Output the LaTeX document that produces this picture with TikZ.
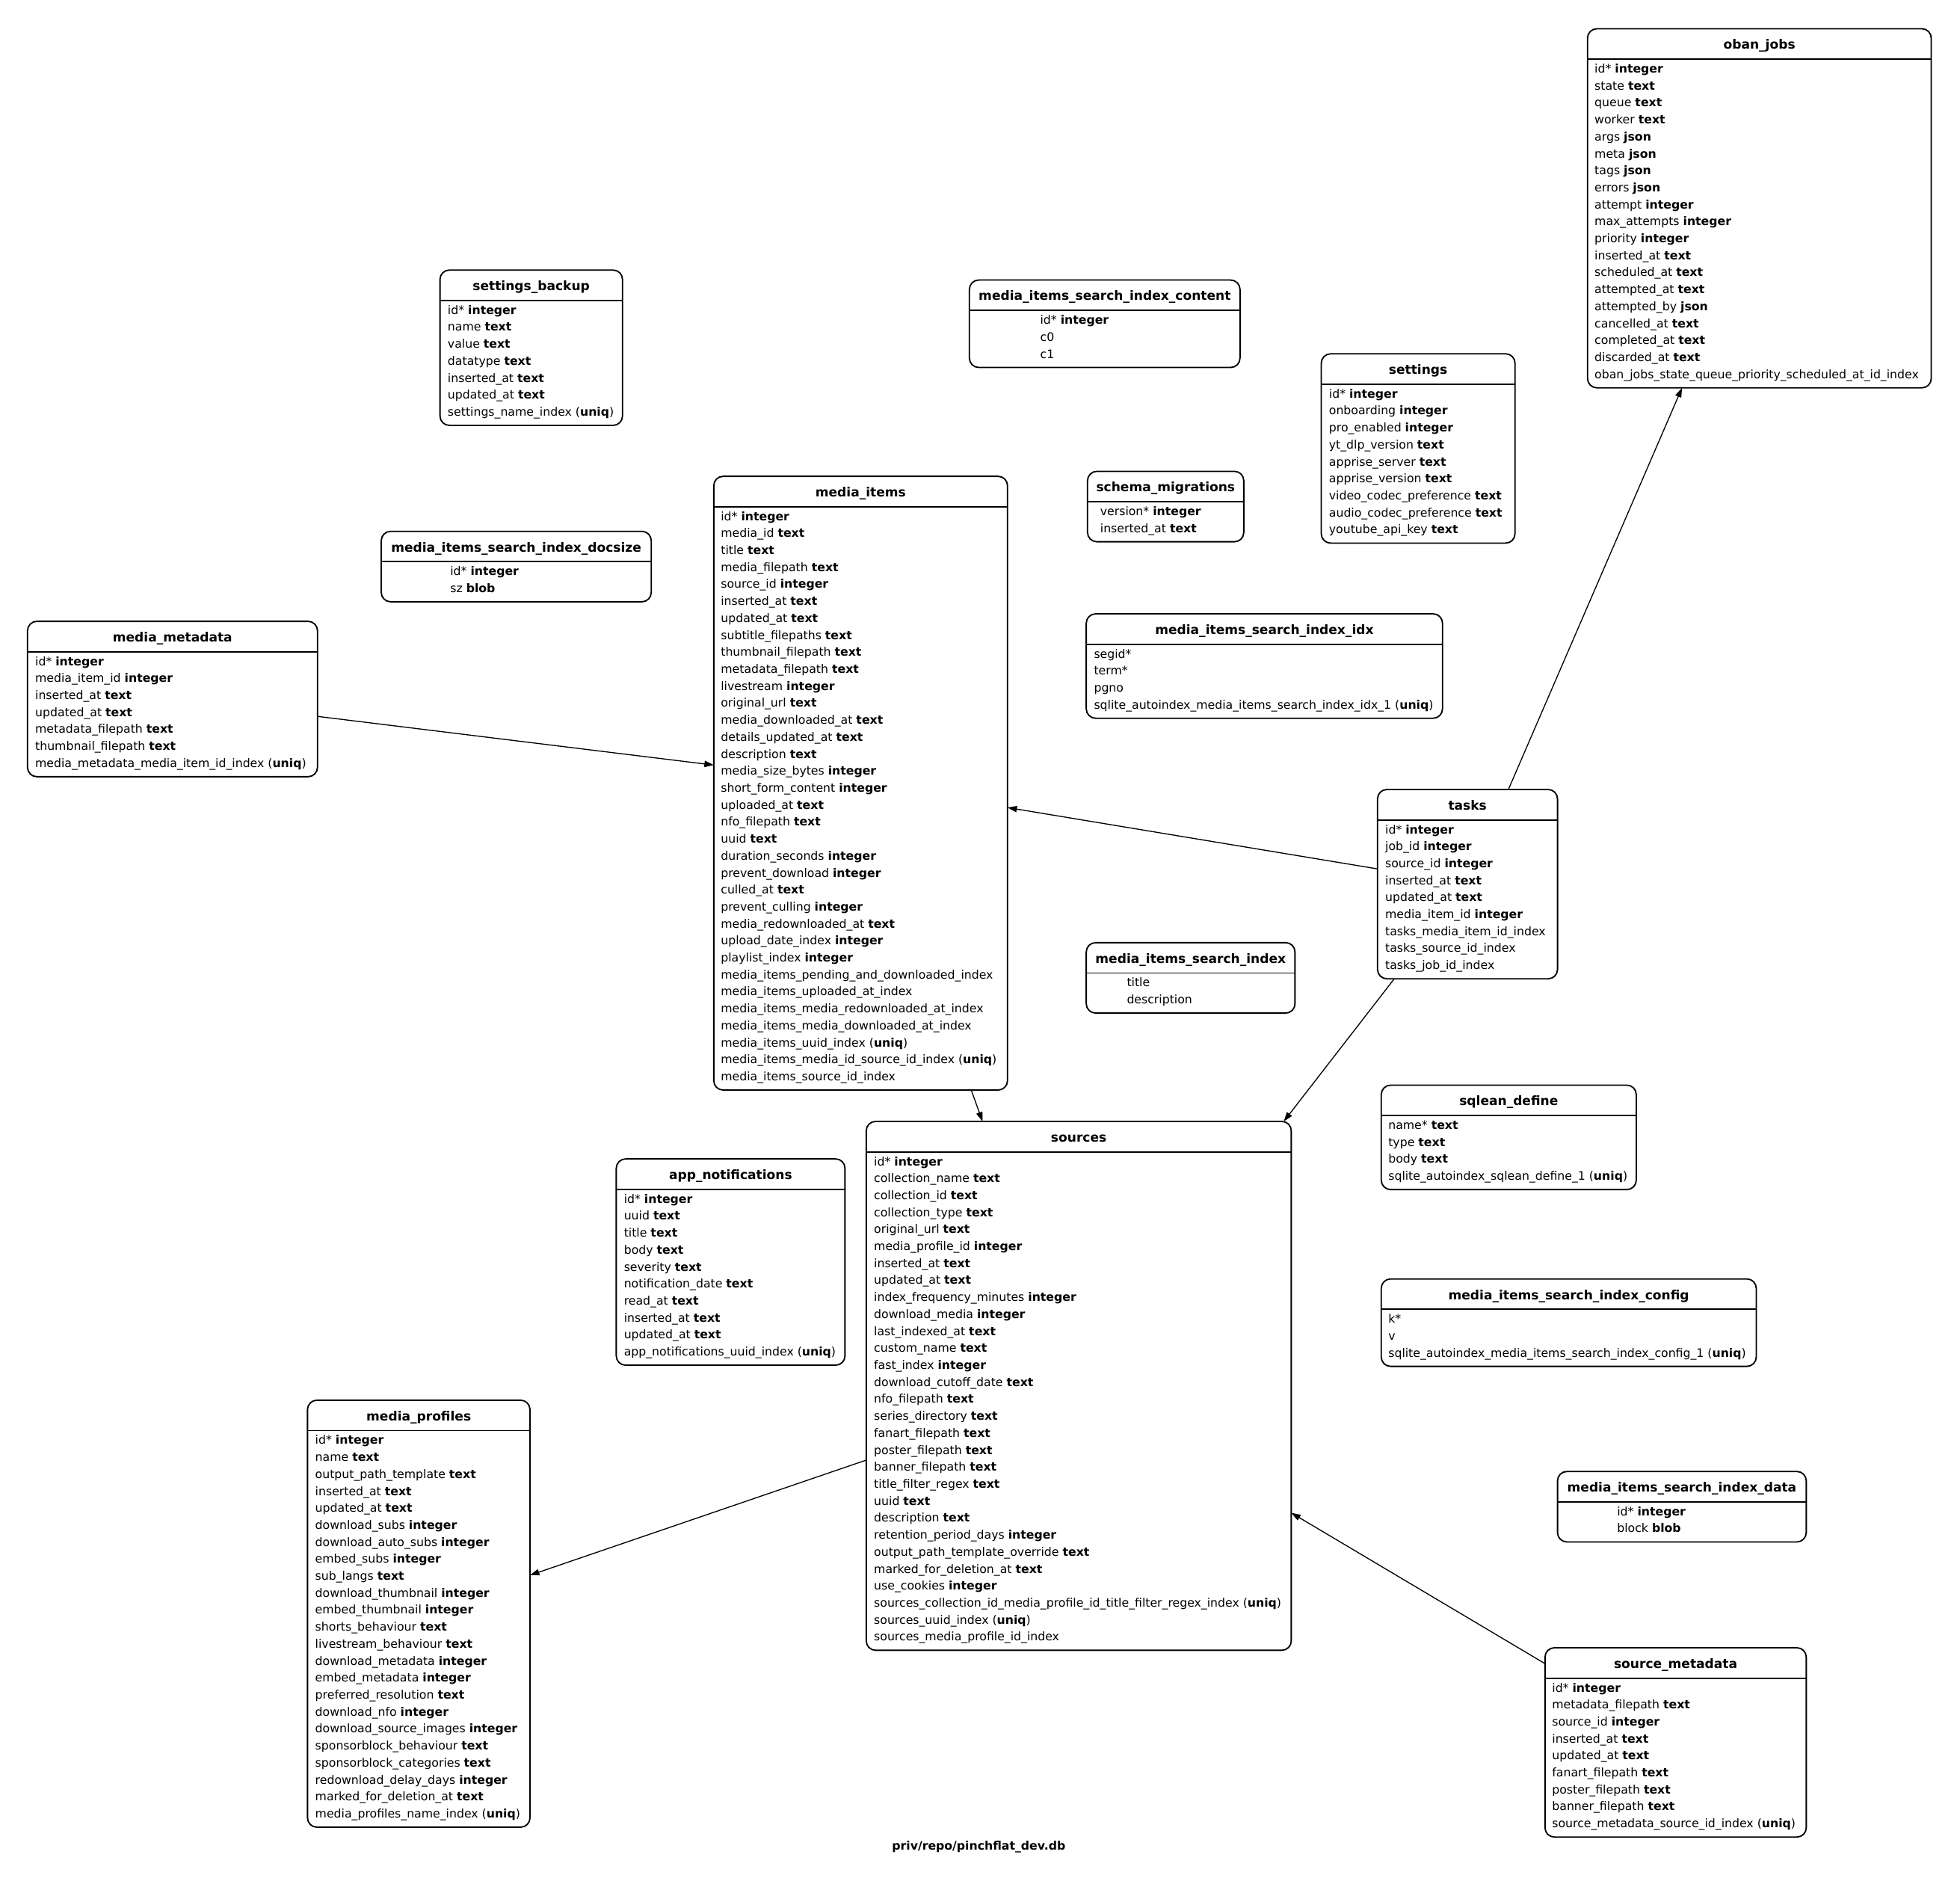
\documentclass[tikz,border=0pt]{standalone}
\usepackage{fontspec}
\setmainfont{DejaVu Sans}
\usetikzlibrary{arrows.meta}
\newcommand\ftype[1]{\textbf{#1}}
\tikzset{
  tblbox/.style={draw, line width=1.1pt, rounded corners=7.5pt, inner sep=0pt, outer sep=0pt},
  tblline/.style={line width=1.1pt},
  tbltitle/.style={font=\fontsize{10.2}{12}\selectfont\bfseries, inner sep=0pt},
  tblrow/.style={font=\fontsize{9.4}{13.58}\selectfont, inner sep=0pt},
  fk/.style={line width=0.8pt, -{Triangle[length=7.5pt,width=5pt]}},
}
% #1 name, #2 left, #3 top, #4 right, #5 rows, #6 title, #7 text x, #8 row list
\newcommand\dbtable[8]{%
  \pgfmathsetmacro\tblH{29.2+#5*13.58}%
  \node[tblbox, minimum width={#4-#2}, minimum height={\tblH}, anchor=north west] (#1) at (#2,#3) {};
  \draw[tblline] ([yshift=-24.3pt]#1.north west) -- ([yshift=-24.3pt]#1.north east);
  \node[tbltitle, anchor=base] (#1-title) at ([yshift=-16.4pt]#1.north) {#6};
  \foreach \rowtext [count=\k from 0] in {#8} {
    \node[tblrow, anchor=base west] (#1-r\k) at (#7, #3+35.3+\k*13.58) {\rowtext};
  }%
}
\begin{document}
\catcode`\_=12
\begin{tikzpicture}[x=1pt, y=-1pt]
\useasboundingbox (0,0) rectangle (1568,1509);

\dbtable{obanjobs}{1270}{23}{1545}{19}{oban_jobs}{1275.5}{%
id* \ftype{integer}, state \ftype{text}, queue \ftype{text}, worker \ftype{text}, args \ftype{json}, meta \ftype{json}, tags \ftype{json}, errors \ftype{json}, attempt \ftype{integer}, max_attempts \ftype{integer}, priority \ftype{integer}, inserted_at \ftype{text}, scheduled_at \ftype{text}, attempted_at \ftype{text}, attempted_by \ftype{json}, cancelled_at \ftype{text}, completed_at \ftype{text}, discarded_at \ftype{text}, oban_jobs_state_queue_priority_scheduled_at_id_index}

\dbtable{settingsbackup}{352}{216}{498}{7}{settings_backup}{358}{%
id* \ftype{integer}, name \ftype{text}, value \ftype{text}, datatype \ftype{text}, inserted_at \ftype{text}, updated_at \ftype{text}, settings_name_index (\ftype{uniq})}

\dbtable{misicontent}{775.5}{224}{992}{3}{media_items_search_index_content}{832}{%
id* \ftype{integer}, c0, c1}

\dbtable{settings}{1057}{283}{1212}{9}{settings}{1063}{%
id* \ftype{integer}, onboarding \ftype{integer}, pro_enabled \ftype{integer}, yt_dlp_version \ftype{text}, apprise_server \ftype{text}, apprise_version \ftype{text}, video_codec_preference \ftype{text}, audio_codec_preference \ftype{text}, youtube_api_key \ftype{text}}

\dbtable{schemamigrations}{870}{377}{995}{2}{schema_migrations}{880}{%
version* \ftype{integer}, inserted_at \ftype{text}}

\dbtable{misidocsize}{305}{425}{521}{2}{media_items_search_index_docsize}{360}{%
id* \ftype{integer}, sz \ftype{blob}}

\dbtable{mediametadata}{22}{497}{254}{7}{media_metadata}{28}{%
id* \ftype{integer}, media_item_id \ftype{integer}, inserted_at \ftype{text}, updated_at \ftype{text}, metadata_filepath \ftype{text}, thumbnail_filepath \ftype{text}, media_metadata_media_item_id_index (\ftype{uniq})}

\dbtable{mediaitems}{571}{381}{806}{34}{media_items}{576.5}{%
id* \ftype{integer}, media_id \ftype{text}, title \ftype{text}, media_filepath \ftype{text}, source_id \ftype{integer}, inserted_at \ftype{text}, updated_at \ftype{text}, subtitle_filepaths \ftype{text}, thumbnail_filepath \ftype{text}, metadata_filepath \ftype{text}, livestream \ftype{integer}, original_url \ftype{text}, media_downloaded_at \ftype{text}, details_updated_at \ftype{text}, description \ftype{text}, media_size_bytes \ftype{integer}, short_form_content \ftype{integer}, uploaded_at \ftype{text}, nfo_filepath \ftype{text}, uuid \ftype{text}, duration_seconds \ftype{integer}, prevent_download \ftype{integer}, culled_at \ftype{text}, prevent_culling \ftype{integer}, media_redownloaded_at \ftype{text}, upload_date_index \ftype{integer}, playlist_index \ftype{integer}, media_items_pending_and_downloaded_index, media_items_uploaded_at_index, media_items_media_redownloaded_at_index, media_items_media_downloaded_at_index, media_items_uuid_index (\ftype{uniq}), media_items_media_id_source_id_index (\ftype{uniq}), media_items_source_id_index}

\dbtable{misiidx}{869}{491}{1154}{4}{media_items_search_index_idx}{875}{%
segid*, term*, pgno, sqlite_autoindex_media_items_search_index_idx_1 (\ftype{uniq})}

\dbtable{tasks}{1102}{631.5}{1246}{9}{tasks}{1108}{%
id* \ftype{integer}, job_id \ftype{integer}, source_id \ftype{integer}, inserted_at \ftype{text}, updated_at \ftype{text}, media_item_id \ftype{integer}, tasks_media_item_id_index, tasks_source_id_index, tasks_job_id_index}

\dbtable{misi}{869}{754}{1036}{2}{media_items_search_index}{901.3}{%
title, description}

\dbtable{sqleandefine}{1105}{868}{1309}{4}{sqlean_define}{1110.5}{%
name* \ftype{text}, type \ftype{text}, body \ftype{text}, sqlite_autoindex_sqlean_define_1 (\ftype{uniq})}

\dbtable{sources}{693}{897}{1033}{29}{sources}{699}{%
id* \ftype{integer}, collection_name \ftype{text}, collection_id \ftype{text}, collection_type \ftype{text}, original_url \ftype{text}, media_profile_id \ftype{integer}, inserted_at \ftype{text}, updated_at \ftype{text}, index_frequency_minutes \ftype{integer}, download_media \ftype{integer}, last_indexed_at \ftype{text}, custom_name \ftype{text}, fast_index \ftype{integer}, download_cutoff_date \ftype{text}, nfo_filepath \ftype{text}, series_directory \ftype{text}, fanart_filepath \ftype{text}, poster_filepath \ftype{text}, banner_filepath \ftype{text}, title_filter_regex \ftype{text}, uuid \ftype{text}, description \ftype{text}, retention_period_days \ftype{integer}, output_path_template_override \ftype{text}, marked_for_deletion_at \ftype{text}, use_cookies \ftype{integer}, sources_collection_id_media_profile_id_title_filter_regex_index (\ftype{uniq}), sources_uuid_index (\ftype{uniq}), sources_media_profile_id_index}

\dbtable{appnotifications}{493}{927}{676}{10}{app_notifications}{499}{%
id* \ftype{integer}, uuid \ftype{text}, title \ftype{text}, body \ftype{text}, severity \ftype{text}, notification_date \ftype{text}, read_at \ftype{text}, inserted_at \ftype{text}, updated_at \ftype{text}, app_notifications_uuid_index (\ftype{uniq})}

\dbtable{misiconfig}{1105}{1023}{1405}{3}{media_items_search_index_config}{1110.5}{%
k*, v, sqlite_autoindex_media_items_search_index_config_1 (\ftype{uniq})}

\dbtable{mediaprofiles}{246}{1120}{424}{23}{media_profiles}{252}{%
id* \ftype{integer}, name \ftype{text}, output_path_template \ftype{text}, inserted_at \ftype{text}, updated_at \ftype{text}, download_subs \ftype{integer}, download_auto_subs \ftype{integer}, embed_subs \ftype{integer}, sub_langs \ftype{text}, download_thumbnail \ftype{integer}, embed_thumbnail \ftype{integer}, shorts_behaviour \ftype{text}, livestream_behaviour \ftype{text}, download_metadata \ftype{integer}, embed_metadata \ftype{integer}, preferred_resolution \ftype{text}, download_nfo \ftype{integer}, download_source_images \ftype{integer}, sponsorblock_behaviour \ftype{text}, sponsorblock_categories \ftype{text}, redownload_delay_days \ftype{integer}, marked_for_deletion_at \ftype{text}, media_profiles_name_index (\ftype{uniq})}

\dbtable{misidata}{1246}{1177}{1445}{2}{media_items_search_index_data}{1293.5}{%
id* \ftype{integer}, block \ftype{blob}}

\dbtable{sourcemetadata}{1236}{1318}{1445}{9}{source_metadata}{1241.5}{%
id* \ftype{integer}, metadata_filepath \ftype{text}, source_id \ftype{integer}, inserted_at \ftype{text}, updated_at \ftype{text}, fanart_filepath \ftype{text}, poster_filepath \ftype{text}, banner_filepath \ftype{text}, source_metadata_source_id_index (\ftype{uniq})}

% connectors
\draw[fk] ([yshift=-13.9pt]mediametadata.east) -- ([yshift=14.5pt]mediaitems.west);
\draw[fk] ([yshift=12.2pt]tasks.west) -- ([yshift=-19.5pt]mediaitems.east);
\draw[fk] ([xshift=32.7pt]tasks.north) -- ([xshift=-61.9pt]obanjobs.south);
\draw[fk] ([xshift=-58.6pt]tasks.south) -- ([xshift=164pt]sources.north);
\draw[fk] ([xshift=88.5pt]mediaitems.south) -- ([xshift=-77pt]sources.north);
\draw[fk] ([yshift=-59.4pt]sources.west) -- ([yshift=30.8pt]mediaprofiles.east);
\draw[fk] ([yshift=63pt]sourcemetadata.west) -- ([yshift=-101.6pt]sources.east);

\node[font=\fontsize{9.4}{12}\selectfont\bfseries, inner sep=0pt, anchor=base] (dbtitle) at (783,1479.5) {priv/repo/pinchflat_dev.db};
\end{tikzpicture}
\end{document}
